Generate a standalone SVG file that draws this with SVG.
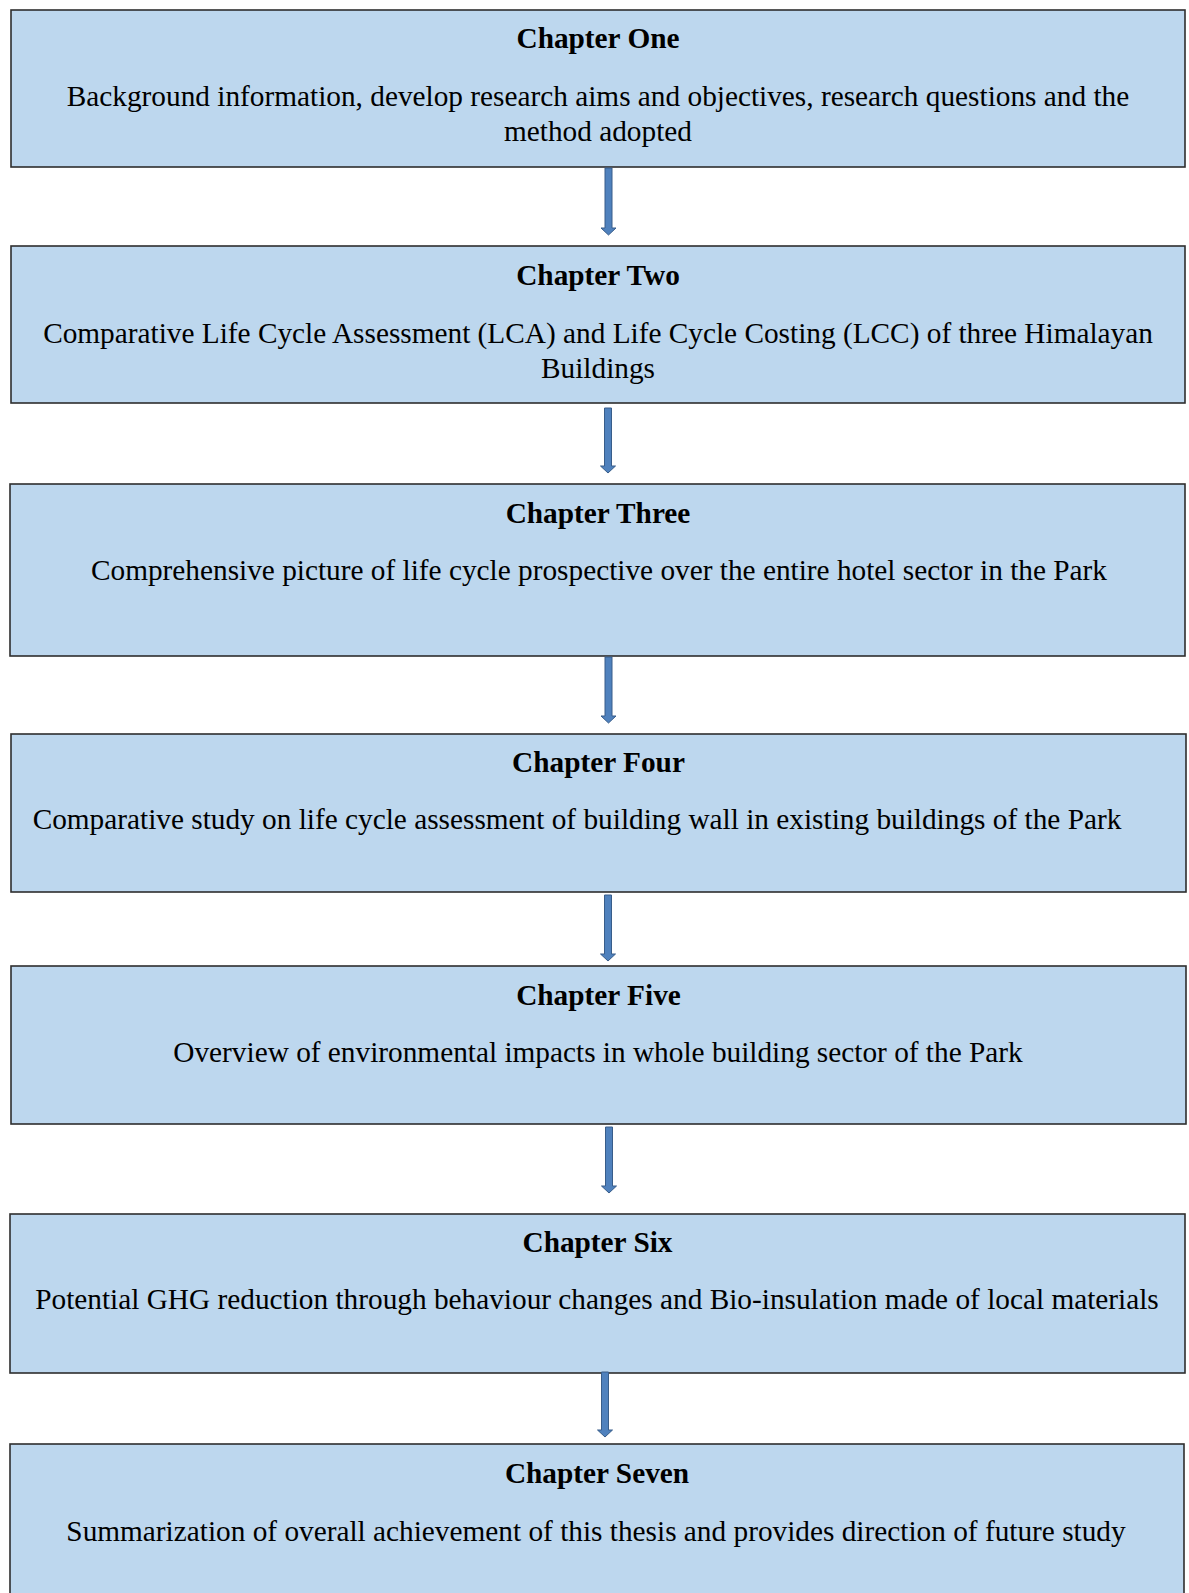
<svg xmlns="http://www.w3.org/2000/svg" width="1189" height="1593" viewBox="0 0 1189 1593">
<style>
.box{fill:#BDD7EE;stroke:#2e2e2e;stroke-width:1.6}
.t{font-family:"Liberation Serif","Times New Roman",serif;font-size:29.3px;font-weight:bold;fill:#000;text-anchor:middle}
.b{font-family:"Liberation Serif","Times New Roman",serif;font-size:29.3px;fill:#000;text-anchor:middle}
.arr{fill:#4F81BD;stroke:#385D8A;stroke-width:1}
</style>
<rect width="1189" height="1593" fill="#fff"/>
<g id="chapter1">
<rect class="box" x="11" y="10" width="1174" height="157"/>
<text class="t" x="598" y="47.5">Chapter One</text>
<text class="b" x="598" y="106">Background information, develop research aims and objectives, research questions and the</text>
<text class="b" x="598" y="141">method adopted</text>
</g>
<g id="chapter2">
<rect class="box" x="11" y="246" width="1174" height="157"/>
<text class="t" x="598" y="284.5">Chapter Two</text>
<text class="b" x="598" y="342.5">Comparative Life Cycle Assessment (LCA) and Life Cycle Costing (LCC) of three Himalayan</text>
<text class="b" x="598" y="378">Buildings</text>
</g>
<g id="chapter3">
<rect class="box" x="10" y="484" width="1175" height="172"/>
<text class="t" x="598" y="522.5">Chapter Three</text>
<text class="b" x="599" y="580">Comprehensive picture of life cycle prospective over the entire hotel sector in the Park</text>
</g>
<g id="chapter4">
<rect class="box" x="11" y="734" width="1175" height="158"/>
<text class="t" x="598.5" y="772">Chapter Four</text>
<text class="b" x="577" y="829">Comparative study on life cycle assessment of building wall in existing buildings of the Park</text>
</g>
<g id="chapter5">
<rect class="box" x="11" y="966" width="1175" height="158"/>
<text class="t" x="598.5" y="1004.5">Chapter Five</text>
<text class="b" x="598" y="1062">Overview of environmental impacts in whole building sector of the Park</text>
</g>
<g id="chapter6">
<rect class="box" x="10" y="1214" width="1175" height="159"/>
<text class="t" x="597.5" y="1252">Chapter Six</text>
<text class="b" x="597" y="1308.5">Potential GHG reduction through behaviour changes and Bio-insulation made of local materials</text>
</g>
<g id="chapter7">
<rect class="box" x="10" y="1444" width="1174" height="170"/>
<text class="t" x="597" y="1482.5">Chapter Seven</text>
<text class="b" x="596" y="1540.5">Summarization of overall achievement of this thesis and provides direction of future study</text>
</g>
<g id="connectors">
<path class="arr" d="M605,168 H612 V228 H616 L608.5,235 L601,228 H605 Z"/>
<path class="arr" d="M604.5,408 H611.5 V466 H615.5 L608,473 L600.5,466 H604.5 Z"/>
<path class="arr" d="M605,657 H612 V716 H616 L608.5,723 L601,716 H605 Z"/>
<path class="arr" d="M604.5,895 H611.5 V954 H615.5 L608,961 L600.5,954 H604.5 Z"/>
<path class="arr" d="M605.5,1127 H612.5 V1186 H616.5 L609,1193 L601.5,1186 H605.5 Z"/>
<path class="arr" d="M601.5,1372 H608.5 V1430 H612.5 L605,1437 L597.5,1430 H601.5 Z"/>
</g>
</svg>
